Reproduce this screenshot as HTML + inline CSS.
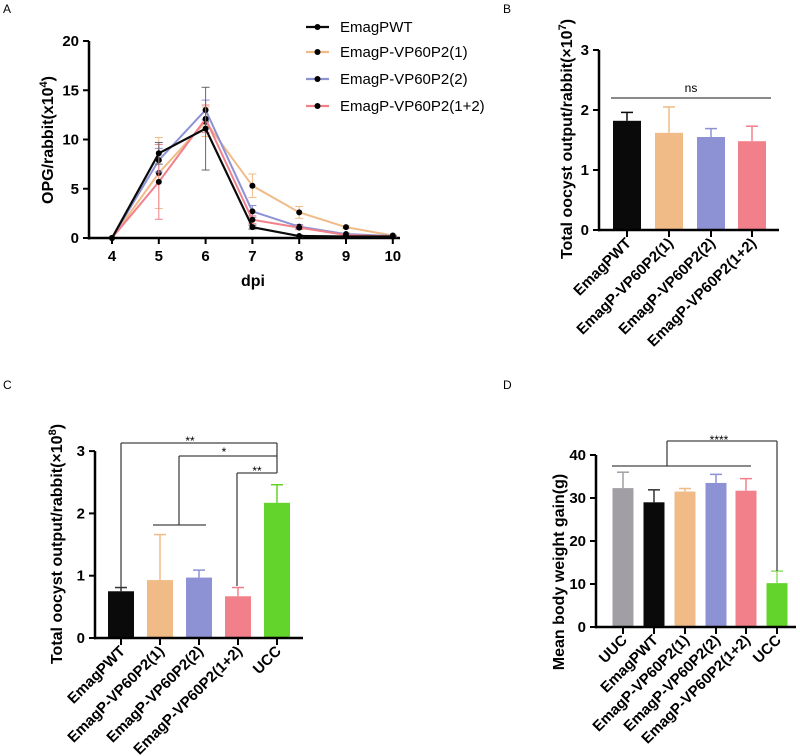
<!DOCTYPE html>
<html><head><meta charset="utf-8"><style>
body{margin:0;background:#fff;}
svg{display:block;font-family:"Liberation Sans",Arial,sans-serif;}
.tk{font-weight:bold;font-size:15px;}
.ttl{font-weight:bold;font-size:16px;}
.cat{font-weight:bold;font-size:15px;}
</style></head><body>
<svg id="fig" width="800" height="756" viewBox="0 0 800 756" xmlns="http://www.w3.org/2000/svg">
<text x="3" y="13" font-size="12">A</text>
<text x="503" y="13" font-size="12">B</text>
<text x="3" y="389" font-size="12">C</text>
<text x="503" y="389" font-size="12">D</text>
</svg>
<script>
// Panel A data
const dpi = [4,5,6,7,8,9,10];
const yTicksA = [0,5,10,15,20];
const seriesNamesA = ["EmagPWT","EmagP-VP60P2(1)","EmagP-VP60P2(2)","EmagP-VP60P2(1+2)"];
const wtA = [0,8.6,11.1,1.1,0.2,0.15,0.15];
const v1A = [0,6.6,11.8,5.3,2.6,1.1,0.25];
const v2A = [0,7.9,13.0,2.7,1.15,0.4,0.2];
const v12A = [0,5.7,12.1,1.85,1.05,0.3,0.15];
const wtErrA = [0,1.1,4.2,0.2,0.1,0.05,0.05];
const v1ErrA = [0,3.6,1.5,1.2,0.6,0.15,0.05];
const v2ErrA = [0,1.2,1.0,0.6,0.2,0.1,0.05];
const v12ErrA = [0,3.8,1.4,0.4,0.2,0.1,0.05];
// Panel B data
const catsB = ["EmagPWT","EmagP-VP60P2(1)","EmagP-VP60P2(2)","EmagP-VP60P2(1+2)"];
const valsB = [1.82,1.62,1.55,1.48];
const errB = [0.14,0.43,0.14,0.25];
const yTicksB = [0,1,2,3];
// Panel C data
const catsC = ["EmagPWT","EmagP-VP60P2(1)","EmagP-VP60P2(2)","EmagP-VP60P2(1+2)","UCC"];
const valsC = [0.75,0.93,0.97,0.67,2.17];
const errC = [0.06,0.73,0.12,0.14,0.29];
const yTicksC = [0,1,2,3];
// Panel D data
const catsD = ["UUC","EmagPWT","EmagP-VP60P2(1)","EmagP-VP60P2(2)","EmagP-VP60P2(1+2)","UCC"];
const valsD = [32.3,29,31.5,33.5,31.7,10.2];
const errD = [3.7,2.9,0.7,2.0,2.8,2.8];
const yTicksD = [0,10,20,30,40];

const NS="http://www.w3.org/2000/svg";
const svg=document.getElementById('fig');
function mk(tag,attrs,parent,txt){const e=document.createElementNS(NS,tag);for(const k in attrs)e.setAttribute(k,attrs[k]);if(txt!==undefined)e.textContent=txt;(parent||svg).appendChild(e);return e;}
const cols4=["#0a0a0a","#f0bb87","#8d92d4","#f2808a"];

// ---- Panel A ----
const gA=mk('g',{});


const xA=d=>112+(d-4)*46.8, yA=v=>238-v*9.85;
mk('line',{x1:89,y1:yA(20),x2:89,y2:239.5,stroke:'#000','stroke-width':2.5},gA);
mk('line',{x1:88,y1:238,x2:400,y2:238,stroke:'#000','stroke-width':2.5},gA);
yTicksA.forEach(t=>{mk('line',{x1:83,y1:yA(t),x2:89,y2:yA(t),stroke:'#000','stroke-width':2},gA);
 const tx=mk('text',{x:79,y:yA(t)+5,'text-anchor':'end',class:'tk'},gA,t);});
dpi.forEach(d=>{mk('line',{x1:xA(d),y1:238,x2:xA(d),y2:244,stroke:'#000','stroke-width':2},gA);
 const tx=mk('text',{x:xA(d),y:261,'text-anchor':'middle',class:'tk'},gA,d);});
let t=mk('text',{x:253,y:286,'text-anchor':'middle',class:'ttl'},gA,'dpi');
t=mk('text',{transform:'translate(53,140) rotate(-90)','text-anchor':'middle',class:'ttl'},gA);

t.innerHTML='OPG/rabbit(x10<tspan dy="-6" font-size="11">4</tspan><tspan dy="6">)</tspan>';
const serA=[wtA,v1A,v2A,v12A], errA=[wtErrA,v1ErrA,v2ErrA,v12ErrA];
[1,2,3,0].forEach(i=>{
 const g=mk('g',{},gA);
 serA[i].forEach((v,j)=>{const e=errA[i][j];if(e>0){const c=i==0?'#666':cols4[i];
  mk('line',{x1:xA(dpi[j]),y1:yA(v-e),x2:xA(dpi[j]),y2:yA(v+e),stroke:c,'stroke-width':1},g);
  mk('line',{x1:xA(dpi[j])-4,y1:yA(v+e),x2:xA(dpi[j])+4,y2:yA(v+e),stroke:c,'stroke-width':1},g);
  mk('line',{x1:xA(dpi[j])-4,y1:yA(v-e),x2:xA(dpi[j])+4,y2:yA(v-e),stroke:c,'stroke-width':1},g);}});
 const p=mk('polyline',{points:serA[i].map((v,j)=>xA(dpi[j])+','+yA(v)).join(' '),fill:'none',stroke:cols4[i],'stroke-width':i==0?2.2:2},g);
 
 serA[i].forEach((v,j)=>{const c=mk('circle',{cx:xA(dpi[j]),cy:yA(v),r:3,fill:'#000'},g);});
});
seriesNamesA.forEach((n,i)=>{const y=[27,52,79,106][i];
 const g=mk('g',{},gA);
 mk('line',{x1:306,y1:y,x2:329,y2:y,stroke:cols4[i],'stroke-width':2.2},g);
 mk('circle',{cx:317.5,cy:y,r:3,fill:'#000'},g);
 mk('text',{x:340,y:y+5,'font-size':15},g,n);});

// ---- Bar chart helper ----
function barChart(o){
 const g=mk('g',{});
 
 
 const y=v=>o.y0-v*o.scale;
 o.vals.forEach((v,i)=>{const cx=o.cx[i];
  const r=mk('rect',{x:cx-o.w/2,y:y(v),width:o.w,height:o.y0-y(v),fill:o.cols[i]},g);
  
  const top=y(v+o.err[i]);
  mk('line',{x1:cx,y1:y(v),x2:cx,y2:top,stroke:o.ecols[i],'stroke-width':1.5},g);
  mk('line',{x1:cx-6,y1:top,x2:cx+6,y2:top,stroke:o.ecols[i],'stroke-width':1.5},g);
  mk('line',{x1:cx,y1:o.y0,x2:cx,y2:o.y0+7,stroke:'#000','stroke-width':2},g);
  const tx=mk('text',{transform:`translate(${cx+5},${o.y0+14}) rotate(-45)`,'text-anchor':'end',class:'cat'},g,o.cats[i]);
  
 });
 mk('line',{x1:o.ax,y1:y(o.ticks[o.ticks.length-1]),x2:o.ax,y2:o.y0+1.2,stroke:'#000','stroke-width':2.5},g);
 mk('line',{x1:o.ax-1,y1:o.y0,x2:o.xend,y2:o.y0,stroke:'#000','stroke-width':2.5},g);
 o.ticks.forEach(t=>{mk('line',{x1:o.ax-6,y1:y(t),x2:o.ax,y2:y(t),stroke:'#000','stroke-width':2},g);
  const tx=mk('text',{x:o.ax-10,y:y(t)+5,'text-anchor':'end',class:'tk'},g,t);});
 const tt=mk('text',{transform:`translate(${o.tx},${o.ty}) rotate(-90)`,'text-anchor':'middle',class:'ttl'},g);
 
 tt.innerHTML=o.title;
 return g;
}
const ln=(g,x1,y1,x2,y2)=>mk('line',{x1,y1,x2,y2,stroke:'#444','stroke-width':1.3},g);

const gB=barChart({name:'panel-b-bar-chart',vals:valsB,err:errB,cats:catsB,ticks:yTicksB,cx:[627,669,711,752],w:28,y0:230,scale:60,ax:599,xend:779,
 cols:cols4,ecols:['#0a0a0a','#f0bb87','#8d92d4','#f2808a'],tx:572,ty:139,title:'Total oocyst output/rabbit(×10<tspan dy="-6" font-size="11">7</tspan><tspan dy="6">)</tspan>'});
ln(gB,611,98,771,98);
t=mk('text',{x:691,y:92,'text-anchor':'middle','font-size':12},gB,'ns');

const colsC=[...cols4,'#62d42b'];
const gC=barChart({name:'panel-c-bar-chart',vals:valsC,err:errC,cats:catsC,ticks:yTicksC,cx:[121,160,199,238,277],w:26,y0:638,scale:62.3,ax:95,xend:303,
 cols:colsC,ecols:['#333','#f0bb87','#8d92d4','#f2808a','#62d42b'],tx:62,ty:544,title:'Total oocyst output/rabbit(×10<tspan dy="-6" font-size="11">8</tspan><tspan dy="6">)</tspan>'});
ln(gC,121,443,277,443);ln(gC,121,443,121,587);ln(gC,277,443,277,473);
ln(gC,179,456,277,456);ln(gC,179,456,179,525);ln(gC,153,525,206,525);
ln(gC,237,473,277,473);ln(gC,237,473,237,586);
[[190,445,'**'],[224,456,'*'],[257,475,'**']].forEach(a=>{const s=mk('text',{x:a[0],y:a[1],'text-anchor':'middle','font-size':12},gC,a[2]);});

const gD=barChart({name:'panel-d-bar-chart',vals:valsD,err:errD,cats:catsD,ticks:yTicksD,cx:[623,654,685,716,746,777],w:21,y0:627,scale:4.3,ax:596,xend:796,
 cols:['#a19fa5','#0a0a0a','#f0bb87','#8d92d4','#f2808a','#62d42b'],ecols:['#a19fa5','#333','#f0bb87','#8d92d4','#f2808a','#8fe066'],tx:564,ty:572,title:'Mean body weight gain(g)'});
ln(gD,612,466,751,466);ln(gD,667,441,777,441);ln(gD,667,441,667,466);ln(gD,777,441,777,571);
t=mk('text',{x:719,y:444,'text-anchor':'middle','font-size':12},gD,'****');
</script>
</body></html>
